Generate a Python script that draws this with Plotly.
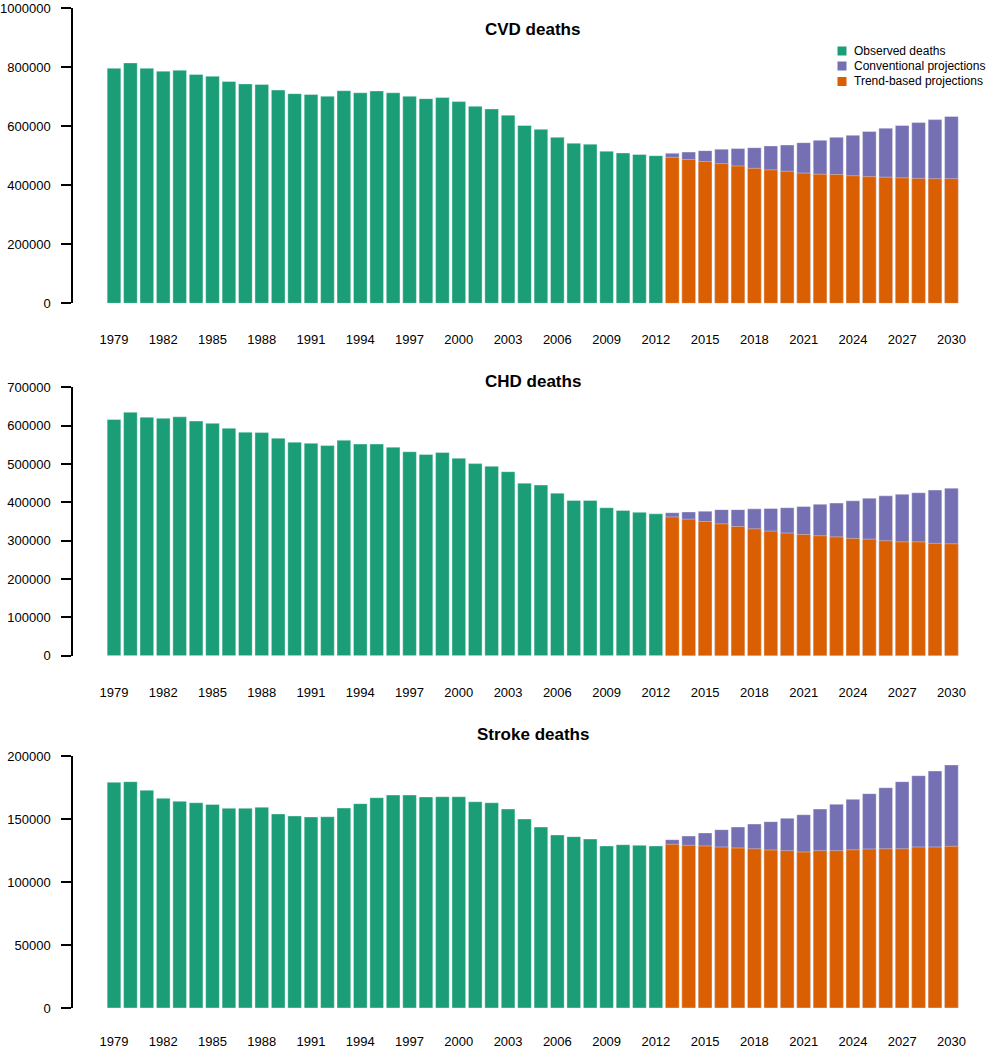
import plotly.graph_objects as go

# ---------------- data ----------------
years = list(range(1979, 2031))
obs_years = list(range(1979, 2013))
proj_years = list(range(2013, 2031))

cvd_observed = [796000, 814000, 796000, 786000, 789000, 775000, 769000, 751000, 743000, 741000,
                722000, 710000, 707000, 701000, 720000, 713000, 719000, 713000, 701000, 693000,
                697000, 683000, 667000, 658000, 637000, 602000, 589000, 562000, 542000, 539000,
                515000, 509000, 504000, 500000]
cvd_conventional = [508000, 512000, 517000, 522000, 524000, 527000, 533000, 536000, 544000,
                    552000, 562000, 569000, 582000, 593000, 602000, 612000, 622000, 633000]
cvd_trend = [494000, 487000, 480000, 473000, 465000, 457000, 452000, 447000, 441000,
             437000, 436000, 432000, 429000, 427000, 425000, 423000, 422000, 422000]

chd_observed = [616000, 635000, 622000, 619000, 623000, 612000, 606000, 593000, 583000, 582000,
                567000, 557000, 554000, 548000, 562000, 552000, 552000, 544000, 532000, 525000,
                530000, 515000, 501000, 494000, 480000, 450000, 445000, 424000, 405000, 405000,
                386000, 379000, 374000, 370000]
chd_conventional = [373000, 375000, 377000, 381000, 381000, 383000, 384000, 386000, 389000,
                    395000, 398000, 404000, 411000, 417000, 421000, 425000, 432000, 437000]
chd_trend = [362000, 356000, 350000, 344000, 337000, 331000, 325000, 320000, 316000,
             313000, 310000, 306000, 304000, 300000, 297000, 297000, 293000, 292000]

stroke_observed = [179100, 179600, 172800, 166400, 164000, 162900, 161600, 158500, 158500, 159300,
                   154000, 152400, 151600, 151800, 158700, 162200, 166900, 169000, 169000, 167500,
                   167700, 167700, 163700, 162900, 157900, 150000, 143600, 137300, 136000, 134100,
                   128600, 129600, 129100, 128600]
stroke_conventional = [133600, 136500, 138900, 141500, 143600, 146000, 147900, 150600, 153400,
                       157900, 161700, 165600, 170100, 174800, 179600, 184400, 188100, 192900]
stroke_trend = [129900, 129100, 128600, 127800, 127000, 126400, 125400, 124900, 123800,
                124900, 124900, 125600, 126200, 126400, 126400, 127800, 127800, 128300]

panel_titles = ["CVD deaths", "CHD deaths", "Stroke deaths"]
y_ticks = [
    [0, 200000, 400000, 600000, 800000, 1000000],
    [0, 100000, 200000, 300000, 400000, 500000, 600000, 700000],
    [0, 50000, 100000, 150000, 200000],
]
x_tick_years = list(range(1979, 2031, 3))

series_names = ["Observed deaths", "Conventional projections", "Trend-based projections"]
colors = ["#1B9E77", "#7570B3", "#D95F02"]

panels = [
    (cvd_observed, cvd_conventional, cvd_trend),
    (chd_observed, chd_conventional, chd_trend),
    (stroke_observed, stroke_conventional, stroke_trend),
]

# ---------------- layout geometry ----------------
H = 1050.0
W = 987.0
FONT = "Liberation Sans, Arial, sans-serif"
panel_px = [(8.0, 303.3), (387.3, 655.75), (756.0, 1008.0)]
xlabel_standoff = [27, 27, 24]
title_px = [29, 381, 734]
legend_rows_px = [51, 66, 81.5]
bar_w = 1 / 1.2

idx_obs = [years.index(y) for y in obs_years]
idx_proj = [years.index(y) for y in proj_years]

edge = dict(width=0.6, color="rgba(255,255,255,0.6)")
fig = go.Figure()
for p, (obs, conv, trend) in enumerate(panels):
    xa = "x" if p == 0 else f"x{p+1}"
    ya = "y" if p == 0 else f"y{p+1}"
    fig.add_trace(go.Bar(x=idx_obs, y=obs, width=bar_w, marker_color=colors[0], marker_line=edge,
                         name=series_names[0], xaxis=xa, yaxis=ya, showlegend=False))
    fig.add_trace(go.Bar(x=idx_proj, y=conv, width=bar_w, marker_color=colors[1], marker_line=edge,
                         name=series_names[1], xaxis=xa, yaxis=ya, showlegend=False))
    fig.add_trace(go.Bar(x=idx_proj, y=trend, width=bar_w, marker_color=colors[2], marker_line=edge,
                         name=series_names[2], xaxis=xa, yaxis=ya, showlegend=False))

x0_px = 73.0
c0_px = 114.0
px_per = 16.42
xmin = -(c0_px - x0_px) / px_per
xmax = xmin + (W - x0_px) / px_per

layout = dict(
    width=987, height=1050,
    margin=dict(l=0, r=0, t=0, b=0, autoexpand=False),
    paper_bgcolor="white", plot_bgcolor="white",
    barmode="overlay",
    font=dict(family=FONT, size=13, color="black"),
    showlegend=False,
    annotations=[], shapes=[],
)
for p in range(3):
    sfx = "" if p == 0 else str(p + 1)
    top_px, zero_px = panel_px[p]
    layout["xaxis" + sfx] = dict(
        domain=[x0_px / W, 1], range=[xmin, xmax], anchor="y" + sfx,
        tickvals=[years.index(y) for y in x_tick_years],
        ticktext=[str(y) for y in x_tick_years],
        showline=False, showgrid=False, zeroline=False, ticks="",
        ticklabelstandoff=xlabel_standoff[p], ticklabeloverflow="allow",
        tickfont=dict(size=13, family=FONT),
    )
    layout["yaxis" + sfx] = dict(
        domain=[1 - zero_px / H, 1 - top_px / H], range=[0, y_ticks[p][-1]],
        anchor="x" + sfx, tickvals=y_ticks[p], tickformat="d",
        showline=True, linecolor="black", linewidth=1.5,
        ticks="outside", ticklen=10, tickwidth=1.5, tickcolor="black",
        showgrid=False, zeroline=False, ticklabelstandoff=8,
        ticklabeloverflow="allow",
        tickfont=dict(size=13, family=FONT),
    )
    layout["annotations"].append(dict(
        text="<b>" + panel_titles[p] + "</b>", x=532.5 / W, y=1 - title_px[p] / H,
        xref="paper", yref="paper", xanchor="center", yanchor="middle",
        showarrow=False, font=dict(size=17, family=FONT, color="black")))

# legend (key squares + labels) in the first panel
for name, col, ry in zip(series_names, colors, legend_rows_px):
    layout["shapes"].append(dict(
        type="rect", xref="paper", yref="paper",
        x0=837.5 / W, x1=846.5 / W, y0=1 - (ry + 4.5) / H, y1=1 - (ry - 4.5) / H,
        fillcolor=col, line=dict(width=0)))
    layout["annotations"].append(dict(
        text=name, x=853 / W, y=1 - ry / H, xref="paper", yref="paper",
        xanchor="left", yanchor="middle", showarrow=False, borderpad=0,
        font=dict(size=12, family=FONT, color="black")))

fig.update_layout(**layout)
css_fix = ("var s=document.createElement('style');"
           "s.textContent='html,body{margin:0!important;padding:0!important;overflow:hidden;}';"
           "document.head.appendChild(s);"
           "document.documentElement.style.margin='0';document.body.style.margin='0';")
fig.write_html("out.html", config={"displayModeBar": False}, post_script=css_fix)
